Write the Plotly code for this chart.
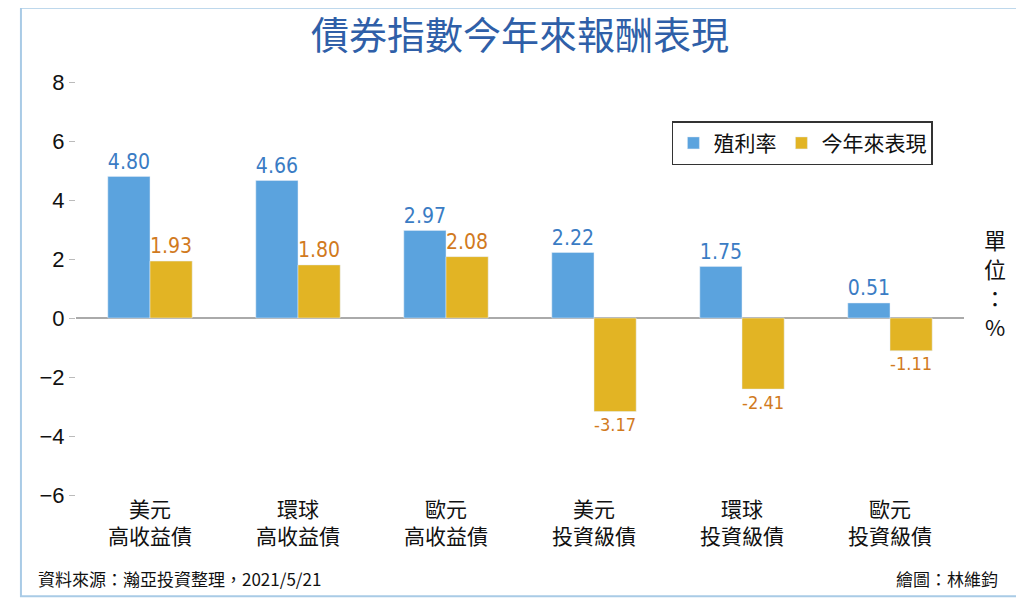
import plotly.graph_objects as go

categories = ["美元<br>高收益債", "環球<br>高收益債", "歐元<br>高收益債",
              "美元<br>投資級債", "環球<br>投資級債", "歐元<br>投資級債"]
yield_rate = [4.80, 4.66, 2.97, 2.22, 1.75, 0.51]
ytd_return = [1.93, 1.80, 2.08, -3.17, -2.41, -1.11]

blue = "#5BA3DE"
gold = "#E2B424"
font = "Noto Sans CJK TC"

fig = go.Figure()
fig.add_trace(go.Bar(
    x=categories, y=yield_rate, name="殖利率", marker_color=blue,
    text=[f"{v:.2f}" for v in yield_rate], textposition="outside",
    textfont=dict(color="#3A7CC4", size=22, family="DejaVu Sans Condensed, Liberation Sans"),
    cliponaxis=False,
))
fig.add_trace(go.Bar(
    x=categories, y=ytd_return, name="今年來表現", marker_color=gold,
    text=[f"{v:.2f}" for v in ytd_return], textposition="outside",
    textfont=dict(color="#D17A1E", size=22, family="DejaVu Sans Condensed, Liberation Sans"),
    cliponaxis=False,
))

fig.update_layout(
    width=1024, height=599,
    barmode="group", bargap=0.43, bargroupgap=0,
    plot_bgcolor="white", paper_bgcolor="white",
    font=dict(family=font, color="#111"),
    margin=dict(l=68, r=68, t=74, b=112, autoexpand=False),
    xaxis=dict(showline=False, showgrid=False, ticks="",
               tickfont=dict(size=21, family=font, color="#111")),
    yaxis=dict(range=[-6, 8], dtick=2, showgrid=False, zeroline=True,
               zerolinecolor="#AAAAAA", zerolinewidth=2,
               ticks="outside", ticklen=6, tickcolor="#BBBBBB",
               tickfont=dict(size=22, family="Liberation Sans", color="#111")),
    legend=dict(orientation="h", x=0.965, xanchor="right", y=0.905, yanchor="top",
                bordercolor="#333", borderwidth=1.5,
                font=dict(size=21, family=font)),
    showlegend=True,
)

fig.add_annotation(text="債券指數今年來報酬表現", xref="paper", yref="paper",
                   x=0.5, y=1.12, xanchor="center", yanchor="middle", showarrow=False,
                   font=dict(size=38, color="#2F5FA8", family=font))

# outer frame
fig.add_shape(type="rect", xref="paper", yref="paper",
              x0=-0.062, x1=1.062, y0=-0.245, y1=1.18,
              line=dict(color="#A9CBE6", width=2))

for i, ch in enumerate(["單", "位", "：", "%"]):
    fig.add_annotation(text=ch, xref="paper", yref="paper",
                       x=1.035, y=0.62 - i * 0.07, xanchor="center", yanchor="middle",
                       showarrow=False, font=dict(size=22, family=font))
fig.add_annotation(text="資料來源：瀚亞投資整理，2021/5/21", xref="paper", yref="paper",
                   x=-0.045, y=-0.203, xanchor="left", yanchor="middle",
                   showarrow=False, font=dict(size=17, family=font))
fig.add_annotation(text="繪圖：林維鈞", xref="paper", yref="paper",
                   x=1.04, y=-0.203, xanchor="right", yanchor="middle",
                   showarrow=False, font=dict(size=17, family=font))

fig.write_html("out.html")
